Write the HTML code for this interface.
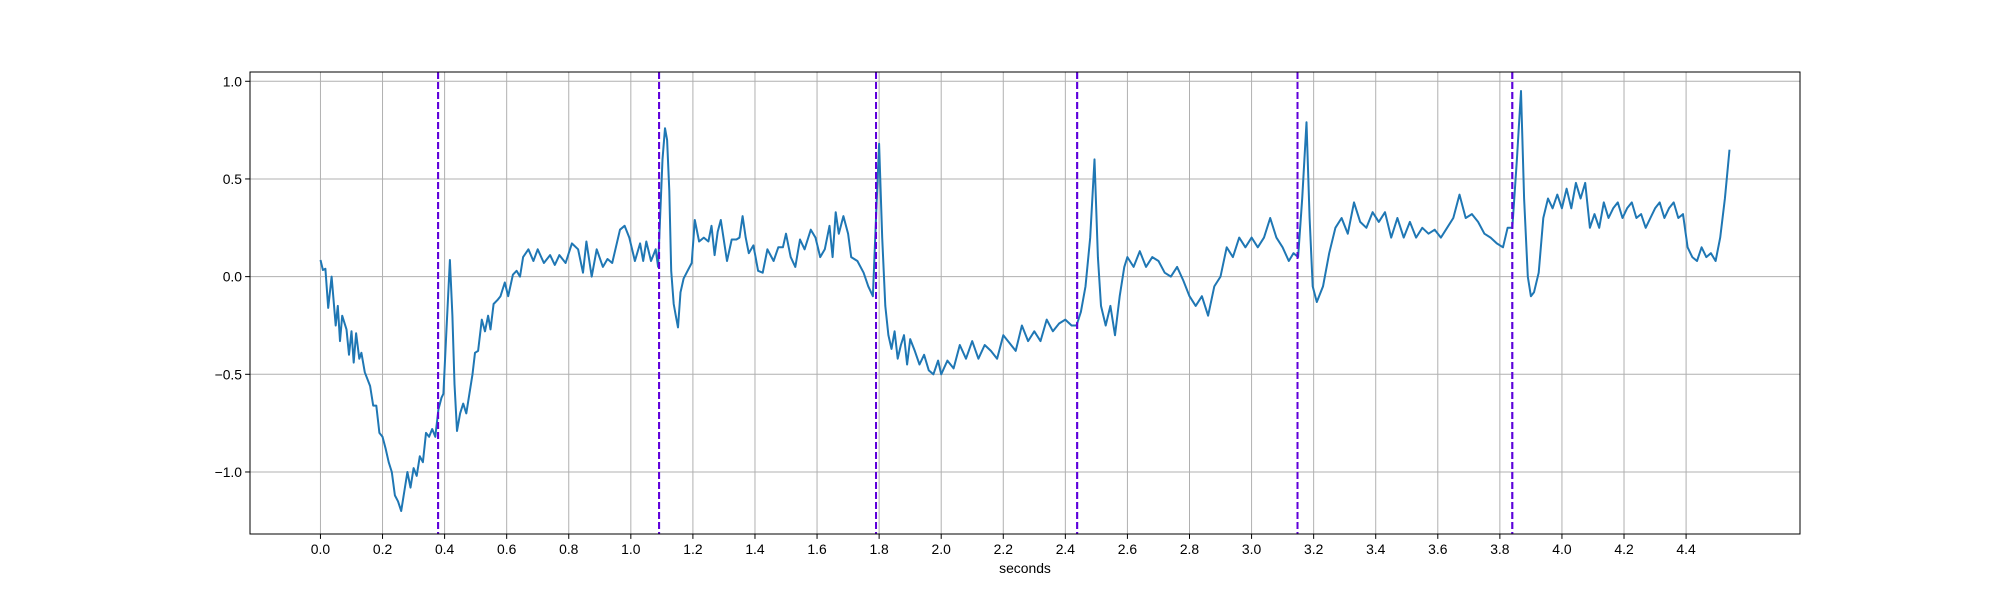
<!DOCTYPE html>
<html><head><meta charset="utf-8"><style>
html,body{margin:0;padding:0;background:#fff;}
svg{display:block;font-family:"Liberation Sans","DejaVu Sans",sans-serif;}
</style></head><body>
<svg id="chart" width="2000" height="600" viewBox="0 0 2000 600" xmlns="http://www.w3.org/2000/svg"></svg>
<script>
const times=[
0,0.008,0.016,0.025,0.036,0.049,0.056,0.063,0.07,0.084,
0.092,0.1,0.107,0.115,0.125,0.132,0.143,0.16,0.17,0.18,
0.19,0.2,0.21,0.22,0.23,0.24,0.25,0.26,0.27,0.28,
0.29,0.3,0.31,0.32,0.33,0.34,0.35,0.36,0.37,0.38,
0.39,0.396,0.405,0.417,0.425,0.432,0.44,0.45,0.46,0.47,
0.48,0.49,0.498,0.508,0.52,0.53,0.54,0.548,0.558,0.57,
0.58,0.594,0.605,0.62,0.632,0.643,0.653,0.67,0.686,0.7,
0.72,0.74,0.755,0.77,0.79,0.81,0.83,0.846,0.857,0.874,
0.89,0.91,0.925,0.94,0.965,0.98,0.995,1.013,1.03,1.04,
1.05,1.065,1.08,1.088,1.094,1.102,1.11,1.117,1.124,1.13,
1.138,1.145,1.152,1.16,1.17,1.183,1.196,1.206,1.22,1.235,
1.25,1.26,1.27,1.28,1.29,1.31,1.325,1.34,1.35,1.36,
1.37,1.38,1.395,1.41,1.425,1.44,1.46,1.475,1.49,1.5,
1.515,1.53,1.545,1.56,1.58,1.595,1.61,1.625,1.64,1.65,
1.66,1.67,1.685,1.7,1.71,1.73,1.75,1.765,1.78,1.79,
1.8,1.81,1.82,1.83,1.84,1.85,1.86,1.87,1.88,1.89,
1.9,1.915,1.93,1.945,1.96,1.975,1.99,2.0,2.02,2.04,
2.06,2.08,2.1,2.12,2.14,2.16,2.18,2.2,2.22,2.24,
2.26,2.28,2.3,2.32,2.34,2.36,2.38,2.4,2.42,2.436,
2.45,2.465,2.48,2.494,2.505,2.515,2.53,2.545,2.56,2.575,
2.59,2.6,2.62,2.64,2.66,2.68,2.7,2.72,2.74,2.76,
2.78,2.8,2.82,2.84,2.86,2.88,2.9,2.92,2.94,2.96,
2.98,3.0,3.02,3.04,3.06,3.08,3.1,3.12,3.135,3.15,
3.163,3.177,3.187,3.197,3.21,3.23,3.25,3.27,3.29,3.31,
3.33,3.35,3.37,3.39,3.41,3.43,3.45,3.47,3.49,3.51,
3.53,3.55,3.57,3.59,3.61,3.63,3.65,3.67,3.69,3.71,
3.73,3.75,3.77,3.79,3.81,3.825,3.84,3.855,3.868,3.878,
3.89,3.9,3.91,3.925,3.94,3.955,3.97,3.985,4.0,4.015,
4.03,4.045,4.06,4.075,4.09,4.105,4.12,4.135,4.15,4.165,
4.18,4.195,4.21,4.225,4.24,4.255,4.27,4.285,4.3,4.315,
4.33,4.345,4.36,4.375,4.39,4.405,4.42,4.435,4.45,4.465,
4.48,4.495,4.51,4.525,4.54];
const values=[
0.085,0.034,0.04,-0.16,0.0,-0.25,-0.15,-0.33,-0.2,-0.27,
-0.4,-0.28,-0.44,-0.29,-0.42,-0.39,-0.49,-0.56,-0.66,-0.66,
-0.8,-0.82,-0.88,-0.95,-1.0,-1.12,-1.15,-1.2,-1.1,-1.0,
-1.08,-0.98,-1.02,-0.92,-0.95,-0.8,-0.82,-0.78,-0.82,-0.68,
-0.62,-0.6,-0.3,0.085,-0.2,-0.55,-0.79,-0.7,-0.65,-0.7,
-0.6,-0.5,-0.39,-0.38,-0.22,-0.28,-0.2,-0.27,-0.14,-0.12,
-0.1,-0.03,-0.1,0.01,0.03,0.0,0.1,0.14,0.08,0.14,
0.07,0.11,0.06,0.11,0.07,0.17,0.14,0.02,0.18,0.0,
0.14,0.05,0.09,0.07,0.24,0.26,0.2,0.08,0.17,0.08,
0.18,0.08,0.14,0.05,0.29,0.6,0.76,0.7,0.44,0.03,
-0.14,-0.2,-0.26,-0.08,-0.01,0.03,0.07,0.29,0.18,0.2,
0.18,0.26,0.11,0.23,0.29,0.08,0.19,0.19,0.2,0.31,
0.2,0.12,0.16,0.03,0.02,0.14,0.08,0.15,0.15,0.22,
0.1,0.05,0.19,0.14,0.24,0.2,0.1,0.14,0.26,0.1,
0.33,0.22,0.31,0.22,0.1,0.08,0.02,-0.05,-0.1,0.3,
0.68,0.2,-0.15,-0.3,-0.37,-0.28,-0.42,-0.35,-0.3,-0.45,
-0.32,-0.38,-0.45,-0.4,-0.48,-0.5,-0.43,-0.5,-0.43,-0.47,
-0.35,-0.42,-0.33,-0.42,-0.35,-0.38,-0.42,-0.3,-0.34,-0.38,
-0.25,-0.33,-0.28,-0.33,-0.22,-0.28,-0.24,-0.22,-0.25,-0.25,
-0.18,-0.05,0.2,0.6,0.1,-0.15,-0.25,-0.15,-0.3,-0.1,
0.05,0.1,0.05,0.13,0.05,0.1,0.08,0.02,0.0,0.05,
-0.02,-0.1,-0.15,-0.1,-0.2,-0.05,0.0,0.15,0.1,0.2,
0.15,0.2,0.15,0.2,0.3,0.2,0.15,0.08,0.12,0.1,
0.4,0.79,0.3,-0.05,-0.13,-0.05,0.12,0.25,0.3,0.22,
0.38,0.28,0.25,0.33,0.28,0.33,0.2,0.3,0.2,0.28,
0.2,0.25,0.22,0.24,0.2,0.25,0.3,0.42,0.3,0.32,
0.28,0.22,0.2,0.17,0.15,0.25,0.25,0.6,0.95,0.4,
0.0,-0.1,-0.08,0.02,0.3,0.4,0.35,0.42,0.35,0.45,
0.35,0.48,0.4,0.48,0.25,0.32,0.25,0.38,0.3,0.35,
0.38,0.3,0.35,0.38,0.3,0.32,0.25,0.3,0.35,0.38,
0.3,0.35,0.38,0.3,0.32,0.15,0.1,0.08,0.15,0.1,
0.12,0.08,0.2,0.4,0.65];
const markers=[0.379,1.091,1.790,2.438,3.148,3.840];
const xTicks=[0.0,0.2,0.4,0.6,0.8,1.0,1.2,1.4,1.6,1.8,2.0,2.2,2.4,2.6,2.8,3.0,3.2,3.4,3.6,3.8,4.0,4.2,4.4];
const yTicks=[-1.0,-0.5,0.0,0.5,1.0];

const L=250,R=1800,T=72,B=534;
const x0=-0.227,x1=4.767,y0=-1.3175,y1=1.0475;
const sx=v=>L+(v-x0)/(x1-x0)*(R-L);
const sy=v=>B-(v-y0)/(y1-y0)*(B-T);
const NS="http://www.w3.org/2000/svg";
const svg=document.getElementById('chart');
function mk(tag,attrs,parent){const e=document.createElementNS(NS,tag);for(const k in attrs)e.setAttribute(k,attrs[k]);(parent||svg).appendChild(e);return e;}
const fmt=v=>(v<0?'\u2212':'')+Math.abs(v).toFixed(1);

const grid=mk('g',{});


xTicks.forEach(v=>{
  const X=sx(v);
  const gl=mk('line',{x1:X,x2:X,y1:T,y2:B,stroke:'#b0b0b0','stroke-width':1},grid);
  
  
  const tk=mk('line',{x1:X,x2:X,y1:B,y2:B+4.9,stroke:'#000','stroke-width':1});
  
  
  const tx=mk('text',{x:X,y:B+20,'text-anchor':'middle','font-size':'13.9px',fill:'#000'});
  tx.textContent=v.toFixed(1);
  
  
});
yTicks.forEach(v=>{
  const Y=sy(v);
  const gl=mk('line',{x1:L,x2:R,y1:Y,y2:Y,stroke:'#b0b0b0','stroke-width':1},grid);
  
  
  const tk=mk('line',{x1:L-4.9,x2:L,y1:Y,y2:Y,stroke:'#000','stroke-width':1});
  
  
  const tx=mk('text',{x:L-8,y:Y+5,'text-anchor':'end','font-size':'13.9px',fill:'#000'});
  tx.textContent=fmt(v);
  
  
});

let d='';
const n=Math.min(times.length,values.length);
for(let i=0;i<n;i++){d+=(i?'L':'M')+sx(times[i]).toFixed(1)+','+sy(values[i]).toFixed(1);}
const line=mk('path',{d:d,fill:'none',stroke:'#1f77b4','stroke-width':2,'stroke-linejoin':'round'});



markers.forEach(m=>{
  const X=sx(m);
  const a=mk('line',{x1:X,x2:X,y1:T,y2:B,stroke:'#0000ff','stroke-width':2,'stroke-dasharray':'7,3'});
  
  
  const b=mk('line',{x1:X,x2:X,y1:T,y2:B,stroke:'#a000c0','stroke-width':2,'stroke-dasharray':'7,3','stroke-opacity':0.6});
  
  
});

const frame=mk('rect',{x:L,y:T,width:R-L,height:B-T,fill:'none',stroke:'#000','stroke-width':1});


const xl=mk('text',{x:(L+R)/2,y:573,'text-anchor':'middle','font-size':'13.9px',fill:'#000'});
xl.textContent='seconds';


</script>
</body></html>
